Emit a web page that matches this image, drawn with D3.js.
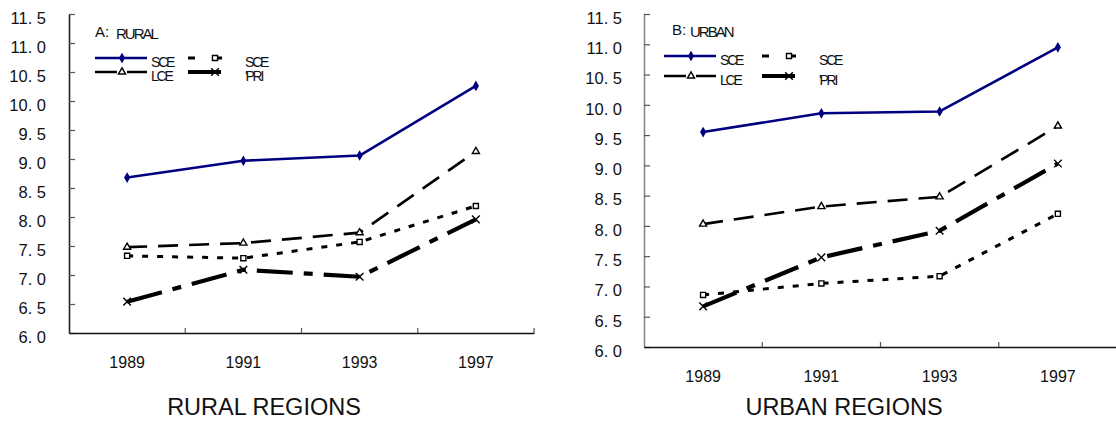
<!DOCTYPE html>
<html>
<head>
<meta charset="utf-8">
<script src="https://cdn.jsdelivr.net/npm/d3@7/dist/d3.min.js"></script>
<style>
  html, body { margin: 0; padding: 0; background: #fff; }
  svg { display: block; }
  text { font-family: "Liberation Sans", Arial, sans-serif; fill: #111; }
</style>
</head>
<body>
<svg id="chart" width="1116" height="421"></svg>
<script>
// ---- data ----
const years = ["1989", "1991", "1993", "1997"];
const yTicks = [6.0, 6.5, 7.0, 7.5, 8.0, 8.5, 9.0, 9.5, 10.0, 10.5, 11.0, 11.5];
const seriesNames = ["SCE", "SCE", "LCE", "'PRI"];

const ruralSCE  = [8.68, 8.97, 9.06, 10.26];
const ruralSCE2 = [7.33, 7.29, 7.57, 8.19];
const ruralLCE  = [7.48, 7.55, 7.73, 9.13];
const ruralPRI  = [6.54, 7.09, 6.97, 7.96];

const urbanSCE  = [9.55, 9.86, 9.89, 10.95];
const urbanSCE2 = [6.86, 7.05, 7.17, 8.20];
const urbanLCE  = [8.03, 8.32, 8.48, 9.65];
const urbanPRI  = [6.67, 7.48, 7.92, 9.03];

const panelLetters = ["A:", "B:"];
const panelNames = ["RURAL", "URBAN"];
const regionTitles = ["RURAL REGIONS", "URBAN REGIONS"];

// ---- styles ----
const styles = [
  { stroke: "#000080", width: 2.6, dash: null, sym: d3.symbolDiamond, size: 18, fill: "#000080", mstroke: "#000080" },
  { stroke: "#000", width: 3, dash: "6,9", sym: d3.symbolSquare, size: 26, fill: "#fff", mstroke: "#000" },
  { stroke: "#000", width: 2.6, dash: "20,11", sym: d3.symbolTriangle, size: 22, fill: "#fff", mstroke: "#000" },
  { stroke: "#000", width: 4.2, dash: "36,11,9,11", sym: d3.symbolX, size: 40, fill: "none", mstroke: "#000" }
];

const svg = d3.select("#chart");

function drawPanel(cfg) {
  const g = svg.append("g");
  const x = d3.scaleBand().domain(years).range([cfg.x0, cfg.x1]);
  const y = d3.scaleLinear().domain([6, 11.5]).range([cfg.yBottom, cfg.yTop]);

  // y axis
  const yAxis = d3.axisLeft(y).tickValues(yTicks)
    .tickSizeInner(-6).tickSizeOuter(0).tickPadding(cfg.yPad)
    .tickFormat(d => d3.format(".1f")(d).replace(".", ". "));
  const ya = g.append("g").attr("transform", `translate(${cfg.x0},0)`).call(yAxis);
  ya.select(".domain").attr("stroke", cfg.yAxisColor).attr("stroke-width", 1.6);
  ya.selectAll(".tick line").attr("stroke", "#555").attr("stroke-width", 1.2);
  ya.selectAll(".tick text").attr("font-size", 16.5).attr("fill", "#111")
    .attr("font-family", "'Liberation Sans', Arial, sans-serif")
    .attr("transform", "translate(0,4)");

  // x axis
  const xAxis = d3.axisBottom(x).tickSize(0).tickPadding(cfg.xPad);
  const xa = g.append("g").attr("transform", `translate(0,${cfg.yBottom})`).call(xAxis);
  xa.select(".domain").attr("stroke", "#111").attr("stroke-width", 1.6);
  xa.selectAll(".tick text").attr("font-size", 16).attr("fill", "#111")
    .attr("font-family", "'Liberation Sans', Arial, sans-serif");
  const edges = years.map(d => x(d)).concat([x(years[years.length - 1]) + x.bandwidth()]);
  g.append("g").selectAll("line").data(edges.slice(1)).join("line")
    .attr("x1", d => d).attr("x2", d => d)
    .attr("y1", cfg.yBottom).attr("y2", cfg.yBottom - 5)
    .attr("stroke", "#555").attr("stroke-width", 1.2);

  // series
  const cx = d => x(d) + x.bandwidth() / 2;
  const order = [2, 1, 3, 0];
  order.forEach(i => {
    const vals = cfg.series[i];
    const st = styles[i];
    const line = d3.line().x((d, k) => cx(years[k])).y(d => y(d));
    g.append("path").datum(vals).attr("d", line)
      .attr("fill", "none").attr("stroke", st.stroke).attr("stroke-width", st.width)
      .attr("stroke-dasharray", st.dash).attr("stroke-linejoin", "round");
    g.append("g").selectAll("path").data(vals).join("path")
      .attr("transform", (d, k) => `translate(${cx(years[k])},${y(d)})`)
      .attr("d", d3.symbol(st.sym, st.size))
      .attr("fill", st.fill).attr("stroke", st.mstroke).attr("stroke-width", 1.4);
  });

  // panel label
  g.append("text").attr("x", cfg.labX).attr("y", cfg.labY)
    .attr("font-family", "'Liberation Serif', 'Times New Roman', serif")
    .attr("font-size", 15).text(panelLetters[cfg.idx]);
  g.append("text").attr("x", cfg.labX + cfg.nameDx).attr("y", cfg.labY + 2)
    .attr("font-size", 15).attr("letter-spacing", -2).text(panelNames[cfg.idx]);

  // legend
  seriesNames.forEach((name, i) => {
    const col = i === 0 || i === 2 ? 0 : 1;
    const row = i < 2 ? 0 : 1;
    const lx = cfg.legX + col * cfg.legColW;
    const ly = cfg.legY + row * cfg.legRowH;
    const st = styles[i];
    const len = i === 3 ? 33 : 52;
    g.append("line").attr("x1", lx).attr("x2", lx + len).attr("y1", ly).attr("y2", ly)
      .attr("stroke", st.stroke).attr("stroke-width", st.width)
      .attr("stroke-dasharray", i === 3 ? null : (i === 1 ? "7,20,7,20" : (i === 2 ? "22,10" : null)));
    g.append("path").attr("transform", `translate(${lx + 27},${ly})`)
      .attr("d", d3.symbol(st.sym, st.size)).attr("fill", st.fill)
      .attr("stroke", st.mstroke).attr("stroke-width", 1.4);
    g.append("text").attr("x", lx + 56 + (col === 1 ? 1 : 0)).attr("y", ly + 9)
      .attr("font-size", 14).attr("letter-spacing", -2.2).text(name);
  });

  // region title
  g.append("text").attr("x", cfg.titleX).attr("y", 415)
    .attr("text-anchor", "middle").attr("font-size", 23.5).text(regionTitles[cfg.idx]);
}

drawPanel({
  idx: 0, x0: 69, x1: 534, yTop: 14, yBottom: 333, yPad: 23, xPad: 24, yAxisColor: "#222",
  series: [ruralSCE, ruralSCE2, ruralLCE, ruralPRI],
  labX: 95, labY: 37, nameDx: 21,
  legX: 95, legY: 58, legColW: 93, legRowH: 14,
  titleX: 264
});

drawPanel({
  idx: 1, x0: 644, x1: 1117, yTop: 14, yBottom: 347, yPad: 22, xPad: 24, yAxisColor: "#888",
  series: [urbanSCE, urbanSCE2, urbanLCE, urbanPRI],
  labX: 672, labY: 35, nameDx: 18,
  legX: 664, legY: 56, legColW: 98, legRowH: 20,
  titleX: 844
});
</script>
</body>
</html>
